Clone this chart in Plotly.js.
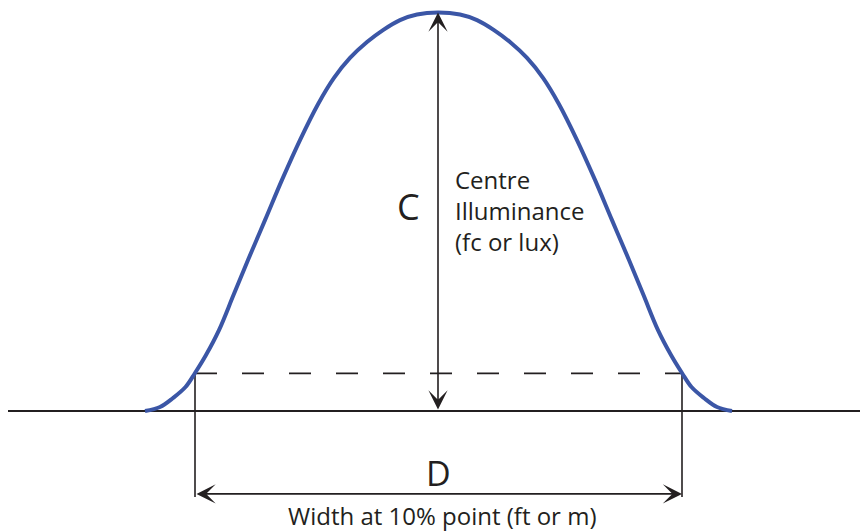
<!DOCTYPE html>
<html>
<head>
<meta charset="utf-8">
<script src="https://cdn.plot.ly/plotly-3.0.1.min.js"></script>
<style>
  html, body { margin: 0; padding: 0; background: #fff; }
  #chart { width: 860px; height: 531px; }
</style>
</head>
<body>
<div id="chart"></div>
<script>
// Beam profile: distance from centre (x) vs % of centre illuminance (y)
const beamX = [-2.93, -2.78, -2.65, -2.525, -2.43, -2.32, -2.19, -2.045, -1.90, -1.73, -1.56, -1.38, -1.20, -1.04,
  -0.88, -0.71, -0.55, -0.38, -0.21, 0,
  0.22, 0.39, 0.56, 0.72, 0.89, 1.05, 1.21, 1.39, 1.57, 1.74, 1.91, 2.055, 2.20, 2.33, 2.44, 2.535, 2.66, 2.79, 2.94];
const beamY = [0, 1.0, 3.26, 6.02, 9.54, 14.05, 20.3, 29.1, 37.9, 47.9, 58.0, 68.0, 77.0, 83.6,
  88.6, 92.6, 95.6, 98.1, 99.5, 100,
  99.5, 98.1, 95.6, 92.6, 88.6, 83.6, 77.0, 68.0, 58.0, 47.9, 37.9, 29.1, 20.3, 14.05, 9.54, 6.02, 3.26, 1.0, 0];

const peak = 100;         // centre illuminance C
const tenPct = 9.45;      // level of the dashed "10% point" line
const edgeLeft = -2.43;   // where the beam crosses the 10% level
const edgeRight = 2.44;
const groundX = [-4.30, 4.22];
const dimY = -20.8;       // level of the D dimension arrow
const extY = -21.6;       // bottom of the extension lines

const INK = '#231f20';

const traces = [
  // ground line
  {x: groundX, y: [0, 0], mode: 'lines', line: {color: INK, width: 1.8}, hoverinfo: 'skip'},
  // 10% dashed line
  {x: [edgeLeft, edgeRight], y: [tenPct, tenPct], mode: 'lines',
   line: {color: INK, width: 1.6, dash: '22px,25px'}, hoverinfo: 'skip'},
  // extension lines
  {x: [edgeLeft, edgeLeft], y: [tenPct, extY], mode: 'lines', line: {color: INK, width: 1.6}, hoverinfo: 'skip'},
  {x: [edgeRight, edgeRight], y: [tenPct, extY], mode: 'lines', line: {color: INK, width: 1.6}, hoverinfo: 'skip'},
  // beam curve
  {x: beamX, y: beamY, mode: 'lines', line: {color: '#3b56a6', width: 4, shape: 'spline', smoothing: 1},
   hoverinfo: 'skip'}
];

const arrow = (x, y, ax, ay) => ({
  x, y, ax, ay, xref: 'x', yref: 'y', axref: 'x', ayref: 'y',
  text: '', showarrow: true, arrowhead: 3, startarrowhead: 3, arrowside: 'end+start',
  arrowsize: 2, startarrowsize: 2, arrowwidth: 1.6, arrowcolor: INK, standoff: 0, startstandoff: 0
});

const label = (x, y, text, size, align) => ({
  x, y, xref: 'x', yref: 'y', text, showarrow: false, align: align || 'center',
  xanchor: align === 'left' ? 'left' : 'center', yanchor: 'middle',
  font: {family: 'Open Sans, sans-serif', size, color: INK}
});

const layout = {
  width: 860, height: 531,
  margin: {l: 0, r: 0, t: 0, b: 0},
  paper_bgcolor: '#fff', plot_bgcolor: '#fff',
  showlegend: false,
  xaxis: {range: [-4.38, 4.22], visible: false, fixedrange: true},
  yaxis: {range: [-30.11, 103.14], visible: false, fixedrange: true},
  annotations: [
    arrow(0, peak, 0, 0),
    arrow(edgeRight, dimY, edgeLeft, dimY),
    label(-0.30, 51.2, 'C', 36),
    label(0.15, 50.4, 'Centre<br>Illuminance<br>(fc or lux)', 24, 'left'),
    label(0, -15.6, 'D', 34),
    label(0.04, -26.1, 'Width at 10% point (ft or m)', 24)
  ]
};

Plotly.newPlot('chart', traces, layout, {displayModeBar: false, staticPlot: true});
</script>
</body>
</html>
